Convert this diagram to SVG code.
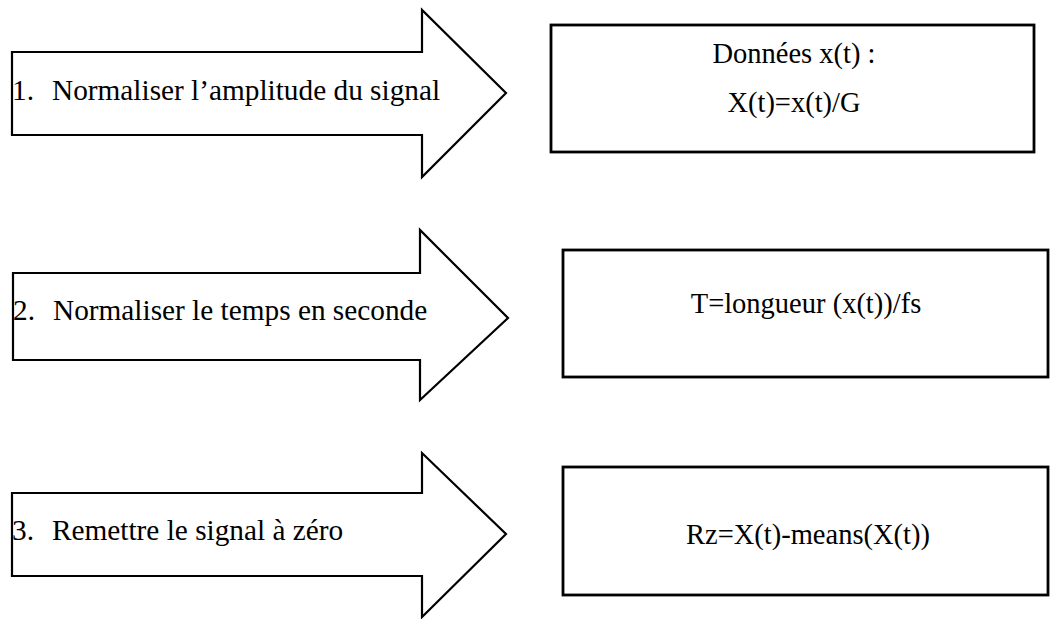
<svg xmlns="http://www.w3.org/2000/svg" width="1057" height="619" viewBox="0 0 1057 619">
<style>
.arrow{fill:#fff;stroke:#000;stroke-width:2.2;stroke-linejoin:miter}
.box{fill:#fff;stroke:#000;stroke-width:2.8}
text{font-family:"Liberation Serif","Times New Roman","DejaVu Serif",serif;font-size:28.5px;fill:#000}
.a{font-size:29.3px}
.c{text-anchor:middle}
</style>
<rect width="1057" height="619" fill="#fff"/>
<g id="arrow1">
<path class="arrow" d="M12,52 H422 V10 L506,93 L422,177 V135 H12 Z"/>
<text class="a" x="12" y="100">1.</text>
<text class="a" x="52" y="100">Normaliser l’amplitude du signal</text>
</g>
<g id="box1">
<rect class="box" x="551" y="25" width="483" height="127"/>
<text class="c" x="794" y="63">Données x(t) :</text>
<text class="c" x="794" y="112">X(t)=x(t)/G</text>
</g>
<g id="arrow2">
<path class="arrow" d="M13,273 H420 V230 L508,318 L420,400 V360 H13 Z"/>
<text class="a" x="13" y="320">2.</text>
<text class="a" x="53" y="320">Normaliser le temps en seconde</text>
</g>
<g id="box2">
<rect class="box" x="563" y="250" width="485" height="127"/>
<text class="c" x="806" y="313">T=longueur (x(t))/fs</text>
</g>
<g id="arrow3">
<path class="arrow" d="M12,493 H422 V453 L506,534 L422,617 V576 H12 Z"/>
<text class="a" x="12" y="540">3.</text>
<text class="a" x="52" y="540">Remettre le signal à zéro</text>
</g>
<g id="box3">
<rect class="box" x="563" y="467" width="485" height="128"/>
<text class="c" x="808" y="544">Rz=X(t)-means(X(t))</text>
</g>
<g id="connectors"></g>
</svg>
